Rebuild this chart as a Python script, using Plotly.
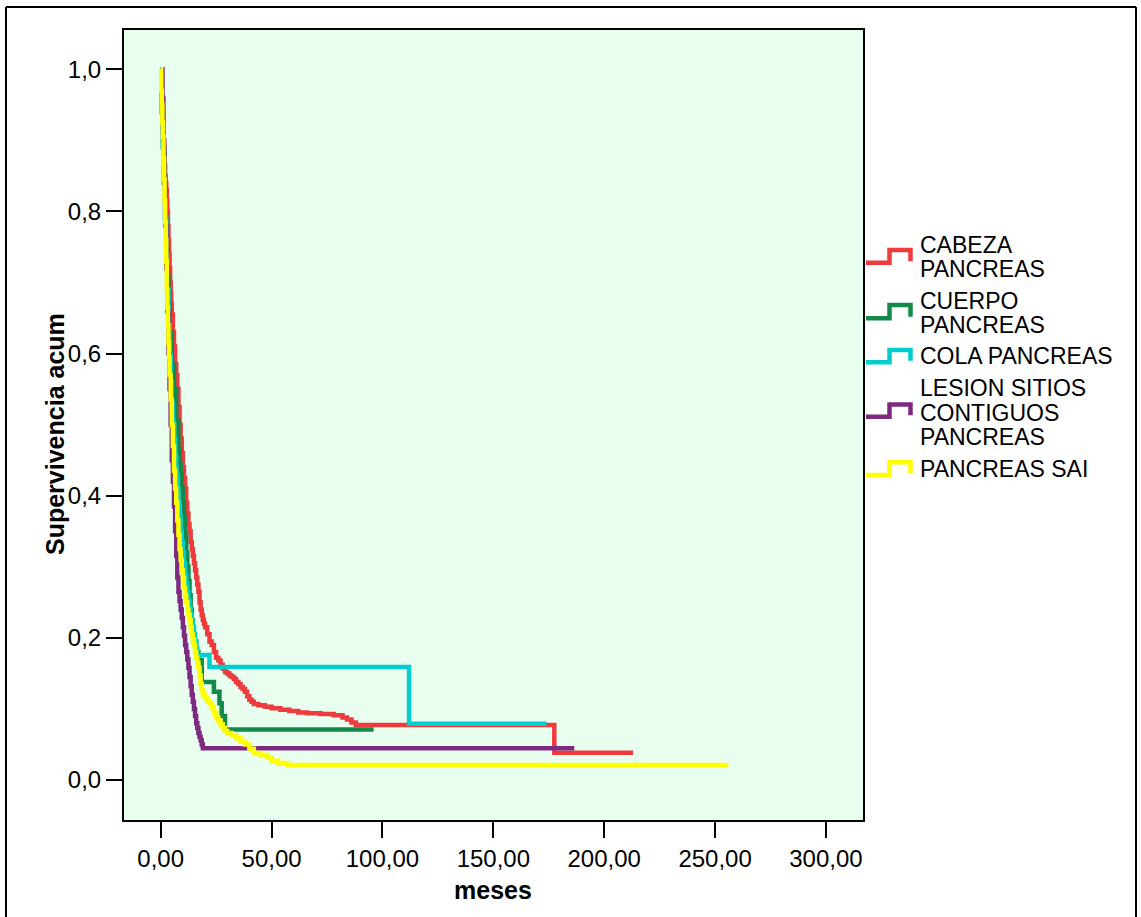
import plotly.graph_objects as go

# Kaplan-Meier survival estimates by tumour site (months, cumulative survival)
cabeza_t = [0, 0.25, 0.5, 0.75, 1, 1.25, 1.5, 1.75, 2, 2.25, 2.5, 2.75, 3, 3.25, 3.5, 3.75,
            4, 4.25, 4.5, 4.75, 5, 5.5, 6, 6.5, 7, 7.5, 8, 8.5, 9, 9.5, 10, 10.5, 11, 11.5,
            12, 12.5, 13, 13.5, 14, 14.5, 15, 15.5, 16, 16.5, 17, 17.5, 18, 18.5, 19, 19.5,
            20, 21, 22, 23, 24, 25, 26, 27, 28, 29, 30, 31, 32, 33, 34, 35, 36, 37, 38, 39,
            40, 41, 42, 44, 47, 50, 54, 58, 62, 66, 72, 78, 82, 84, 86, 88, 177.5, 213]
cabeza_s = [1.0, 0.975, 0.95, 0.93, 0.91, 0.895, 0.88, 0.865, 0.85, 0.84, 0.83, 0.815, 0.80,
            0.78, 0.76, 0.74, 0.72, 0.70, 0.685, 0.67, 0.655, 0.63, 0.61, 0.585, 0.57, 0.55,
            0.525, 0.50, 0.48, 0.46, 0.44, 0.425, 0.41, 0.39, 0.375, 0.36, 0.35, 0.335,
            0.325, 0.315, 0.305, 0.295, 0.285, 0.275, 0.265, 0.25, 0.24, 0.232, 0.225, 0.22,
            0.215, 0.205, 0.195, 0.19, 0.18, 0.172, 0.168, 0.162, 0.157, 0.152, 0.150,
            0.147, 0.145, 0.142, 0.138, 0.135, 0.131, 0.128, 0.124, 0.118, 0.113, 0.110,
            0.107, 0.105, 0.103, 0.101, 0.099, 0.097, 0.095, 0.094, 0.093, 0.091, 0.088,
            0.085, 0.081, 0.0775, 0.0385, 0.0385]

cuerpo_t = [0, 0.5, 1, 1.5, 2, 2.5, 3, 3.5, 4, 5, 6, 7, 8, 8.5, 9, 9.5, 10, 10.5, 11, 11.5,
            12, 12.5, 13, 13.5, 14, 14.5, 15, 16, 17, 18.5, 24, 26.5, 27.5, 29, 96]
cuerpo_s = [1.0, 0.94, 0.89, 0.84, 0.79, 0.75, 0.71, 0.67, 0.63, 0.585, 0.55, 0.505, 0.465,
            0.445, 0.43, 0.41, 0.39, 0.37, 0.345, 0.32, 0.30, 0.28, 0.26, 0.24, 0.22, 0.205,
            0.195, 0.18, 0.169, 0.138, 0.124, 0.108, 0.090, 0.071, 0.071]

cola_t = [0, 0.5, 1, 1.5, 2, 2.5, 3, 3.5, 4, 4.5, 5, 5.5, 6, 6.5, 7, 7.5, 8, 8.5, 9, 9.5,
          10, 10.5, 11, 11.5, 12, 12.5, 13, 13.5, 14, 14.5, 15, 15.5, 16, 16.5, 22, 112, 174]
cola_s = [1.0, 0.95, 0.89, 0.84, 0.79, 0.74, 0.69, 0.64, 0.60, 0.56, 0.53, 0.505, 0.48,
          0.455, 0.43, 0.41, 0.39, 0.37, 0.35, 0.335, 0.32, 0.305, 0.29, 0.277, 0.265,
          0.252, 0.24, 0.232, 0.225, 0.215, 0.205, 0.195, 0.185, 0.176, 0.159, 0.079, 0.079]

lesion_t = [0, 0.8, 1.2, 1.6, 2, 2.5, 3, 3.5, 4, 4.5, 5, 5.5, 6, 6.5, 7, 7.5, 8, 8.5, 9,
            9.5, 10, 10.5, 11, 11.5, 12, 12.5, 13, 13.5, 14, 14.5, 15, 15.5, 16, 16.5, 17,
            17.5, 18, 18.5, 19, 186.5]
lesion_s = [1.0, 0.96, 0.90, 0.84, 0.78, 0.72, 0.66, 0.60, 0.55, 0.50, 0.45, 0.42, 0.385,
            0.35, 0.315, 0.285, 0.265, 0.252, 0.24, 0.228, 0.215, 0.203, 0.19, 0.18, 0.17,
            0.158, 0.145, 0.132, 0.12, 0.11, 0.10, 0.09, 0.08, 0.073, 0.066, 0.061, 0.056,
            0.05, 0.0446, 0.0446]

sai_t = [0, 0.25, 0.5, 0.75, 1, 1.25, 1.5, 1.75, 2, 2.25, 2.5, 2.75, 3, 3.25, 3.5, 3.75, 4,
         4.5, 5, 5.5, 6, 6.5, 7, 7.5, 8, 8.5, 9, 9.5, 10, 10.5, 11, 11.5, 12, 12.5, 13,
         13.5, 14, 14.5, 15, 15.5, 16, 16.5, 17, 17.5, 18, 18.5, 19, 20, 21, 22, 23, 24,
         25, 26, 27, 28, 29, 30, 32, 34, 36, 38, 40, 42, 45, 48, 50, 53, 57, 256]
sai_s = [1.0, 0.97, 0.95, 0.925, 0.905, 0.875, 0.845, 0.815, 0.785, 0.76, 0.73, 0.69, 0.665,
         0.64, 0.615, 0.595, 0.57, 0.535, 0.50, 0.47, 0.435, 0.41, 0.39, 0.365, 0.345,
         0.325, 0.31, 0.295, 0.285, 0.27, 0.26, 0.25, 0.24, 0.232, 0.225, 0.215, 0.205,
         0.198, 0.19, 0.18, 0.172, 0.165, 0.158, 0.147, 0.135, 0.127, 0.12, 0.115, 0.111,
         0.108, 0.103, 0.095, 0.088, 0.083, 0.078, 0.073, 0.069, 0.066, 0.063, 0.059,
         0.054, 0.050, 0.044, 0.038, 0.035, 0.032, 0.027, 0.024, 0.021, 0.021]

series_names = [["CABEZA", "PANCREAS"], ["CUERPO", "PANCREAS"], ["COLA PANCREAS"],
                ["LESION SITIOS", "CONTIGUOS", "PANCREAS"], ["PANCREAS SAI"]]
series_colors = ["#EF3A3E", "#13894A", "#00CDCD", "#7D2A80", "#FFFF00"]
series_data = [(cabeza_t, cabeza_s), (cuerpo_t, cuerpo_s), (cola_t, cola_s),
               (lesion_t, lesion_s), (sai_t, sai_s)]

x_ticks = [0, 50, 100, 150, 200, 250, 300]
y_ticks = [0.0, 0.2, 0.4, 0.6, 0.8, 1.0]

W, H = 1141, 917
PL, PR, PT, PB = 124, 863, 30, 820  # plot-area edges in pixels
FONT = "Liberation Sans, Arial, sans-serif"
LINE_W = 4.5


def px(x):
    return (x - PL) / (PR - PL)


def py(y):
    return (PB - y) / (PB - PT)


fig = go.Figure()
for (t, s), name, color in zip(series_data, series_names, series_colors):
    fig.add_trace(go.Scatter(x=t, y=s, mode="lines", line_shape="hv",
                             line=dict(color=color, width=LINE_W),
                             name=" ".join(name), showlegend=False))

shapes = []
annotations = []

# legend: step glyph + label lines
glyph_rows = [(262.7, 250), (318.3, 305), (362.3, 350), (416.7, 404.5), (475, 462.3)]
label_rows = [[245, 269.3], [301, 325], [356], [388.3, 412.7, 436.7], [469.3]]
for (low, top), color, lines, ys in zip(glyph_rows, series_colors, series_names, label_rows):
    path = (f"M {px(866)},{py(low)} L {px(889.5)},{py(low)} L {px(889.5)},{py(top)} "
            f"L {px(910.5)},{py(top)} L {px(910.5)},{py(low - 1.5)}")
    shapes.append(dict(type="path", xref="paper", yref="paper", path=path,
                       line=dict(color=color, width=LINE_W)))
    for txt, yy in zip(lines, ys):
        annotations.append(dict(text=txt, xref="paper", yref="paper", x=px(917.5), y=py(yy),
                                xanchor="left", yanchor="middle", showarrow=False,
                                font=dict(family=FONT, size=23, color="black")))

# axis titles
annotations.append(dict(text="<b>meses</b>", xref="paper", yref="paper", x=px(493), y=py(890),
                        xanchor="center", yanchor="middle", showarrow=False,
                        font=dict(family=FONT, size=25, color="black")))
annotations.append(dict(text="<b>Supervivencia acum</b>", xref="paper", yref="paper",
                        x=px(55), y=py(434), xanchor="center", yanchor="middle",
                        textangle=-90, showarrow=False,
                        font=dict(family=FONT, size=25, color="black")))

# outer frame
for x0, y0, x1, y1 in [(6, 7, 1136, 7), (6, 7, 6, 930), (1136, 7, 1136, 930)]:
    shapes.append(dict(type="line", xref="paper", yref="paper",
                       x0=px(x0), y0=py(y0), x1=px(x1), y1=py(y1),
                       line=dict(color="black", width=2)))

fig.update_layout(
    width=W, height=H,
    margin=dict(l=PL, r=W - PR, t=PT, b=H - PB, pad=0),
    paper_bgcolor="white", plot_bgcolor="#E8FFF0",
    separators=",.",
    shapes=shapes, annotations=annotations, showlegend=False,
    font=dict(family=FONT, size=24, color="black"),
)
fig.update_xaxes(range=[-16.55, 316.7], tickvals=x_ticks, tickformat=".2f",
                 ticks="outside", ticklen=16, tickwidth=2, tickcolor="black",
                 showline=True, linecolor="black", linewidth=2, mirror=True,
                 showgrid=False, zeroline=False, tickfont=dict(size=24))
fig.update_yaxes(range=[-0.0563, 1.0553], tickvals=y_ticks, tickformat=".1f",
                 ticks="outside", ticklen=16, tickwidth=2, tickcolor="black",
                 showline=True, linecolor="black", linewidth=2, mirror=True,
                 showgrid=False, zeroline=False, tickfont=dict(size=24))

fig.write_html("out.html")
